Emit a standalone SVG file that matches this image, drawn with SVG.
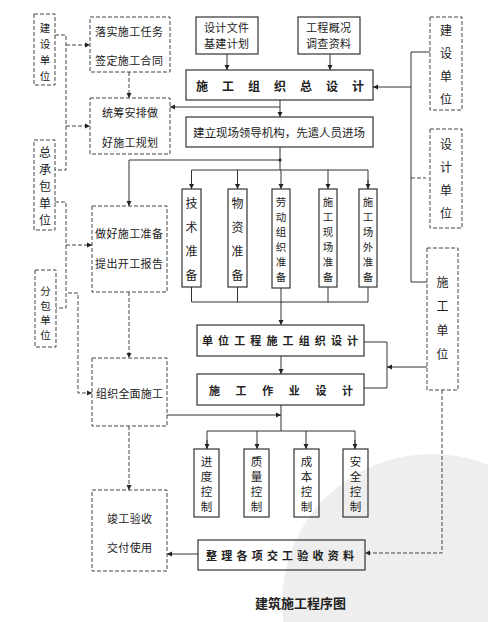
<svg xmlns="http://www.w3.org/2000/svg" width="488" height="622" viewBox="0 0 488 622">
<style>
.box{fill:none;stroke:#333;stroke-width:1.2}
.dbox{fill:none;stroke:#444;stroke-width:1;stroke-dasharray:4 2}
.ln{fill:none;stroke:#333;stroke-width:1}
.dl{fill:none;stroke:#444;stroke-width:1;stroke-dasharray:4 2}
text{font-family:"Noto Sans CJK SC","Noto Sans",sans-serif;fill:#222;dominant-baseline:central;font-size:11px}
.v{font-size:12px;text-anchor:middle}
.s{font-size:10.5px}
.m{font-size:11.5px}
.b{font-weight:bold}
</style>
<defs>
<marker id="ar" markerUnits="userSpaceOnUse" markerWidth="6" markerHeight="6" refX="5" refY="3" orient="auto">
<path d="M0,0.5 L5,3 L0,5.5 z" fill="#222"/>
</marker>
</defs>
<rect width="488" height="622" fill="#fff"/>
<ellipse cx="432" cy="602" rx="150" ry="148" fill="#eeeeee"/>

<g id="connectors">
<path class="ln" d="M227,54 V70" marker-end="url(#ar)"/>
<path class="ln" d="M330,54 V70" marker-end="url(#ar)"/>
<path class="ln" d="M430,52 H411 V282 H427"/>
<path class="dl" d="M411,178 H426"/>
<path class="ln" d="M411,87 H373" marker-end="url(#ar)"/>
<path class="ln" d="M280,100 V117" marker-end="url(#ar)"/>
<path class="ln" d="M280,107 H170" marker-end="url(#ar)"/>
<path class="ln" d="M280,147 V170"/>
<circle cx="280" cy="160" r="1.6" fill="#222"/>
<path class="ln" d="M280,160 H129 V206" marker-end="url(#ar)"/>
<path class="ln" d="M191.5,189 V170 H368 V189"/>
<path class="ln" d="M191.5,180 V189" marker-end="url(#ar)"/>
<path class="ln" d="M368,180 V189" marker-end="url(#ar)"/>
<path class="ln" d="M237.5,170 V189" marker-end="url(#ar)"/>
<path class="ln" d="M281,170 V189" marker-end="url(#ar)"/>
<path class="ln" d="M328,170 V189" marker-end="url(#ar)"/>
<path class="ln" d="M191.5,287 V302 H368 V287"/>
<path class="ln" d="M237.5,287 V302 M328,287 V302 M281,288 V302"/>
<path class="ln" d="M281,302 V325" marker-end="url(#ar)"/>
<path class="ln" d="M281,356 V374" marker-end="url(#ar)"/>
<path class="ln" d="M364,342 H387 V388 H364"/>
<path class="ln" d="M427,367 H387" marker-end="url(#ar)"/>
<path class="ln" d="M281,405 V431"/>
<path class="ln" d="M207,449 V431 H355 V449"/>
<path class="ln" d="M207,440 V449" marker-end="url(#ar)"/>
<path class="ln" d="M355,440 V449" marker-end="url(#ar)"/>
<path class="ln" d="M257,431 V449" marker-end="url(#ar)"/>
<path class="ln" d="M306,431 V449" marker-end="url(#ar)"/>
<path class="ln" d="M167,415 H281" marker-end="url(#ar)"/>
<path class="dl" d="M442,390 V553 H365" marker-end="url(#ar)"/>
<path class="ln" d="M198,554 H167" marker-end="url(#ar)"/>
<path class="dl" d="M55,35 H66 V170 H55"/>
<path class="dl" d="M66,45 H90" marker-end="url(#ar)"/>
<path class="dl" d="M66,126 H90" marker-end="url(#ar)"/>
<path class="dl" d="M55,202 H66 V308 H56"/>
<path class="dl" d="M66,245 H92" marker-end="url(#ar)"/>
<path class="dl" d="M68,293 H78 V393 H92" marker-end="url(#ar)"/>
<path class="dl" d="M129,72 V98" marker-end="url(#ar)"/>
<path class="dl" d="M129,292 V358" marker-end="url(#ar)"/>
<path class="dl" d="M129,426 V490" marker-end="url(#ar)"/>
</g>

<g id="n-jianshe-left">
<rect class="dbox" x="34" y="14" width="21" height="71"/>
<text class="v s"><tspan x="45" y="27">建</tspan><tspan x="45" y="43">设</tspan><tspan x="45" y="59">单</tspan><tspan x="45" y="75">位</tspan></text>
</g>
<g id="n-zongchengbao">
<rect class="dbox" x="34" y="140" width="21" height="90"/>
<text class="v"><tspan x="45" y="151">总</tspan><tspan x="45" y="168">承</tspan><tspan x="45" y="185">包</tspan><tspan x="45" y="202">单</tspan><tspan x="45" y="219">位</tspan></text>
</g>
<g id="n-fenbao">
<rect class="dbox" x="35" y="270" width="21" height="77"/>
<text class="v s"><tspan x="45.5" y="290">分</tspan><tspan x="45.5" y="304.5">包</tspan><tspan x="45.5" y="319">单</tspan><tspan x="45.5" y="333.5">位</tspan></text>
</g>

<g id="n-luoshi">
<rect class="dbox" x="90" y="17" width="80" height="55"/>
<text x="95" y="31" textLength="68" lengthAdjust="spacing">落实施工任务</text>
<text x="95" y="60" textLength="68" lengthAdjust="spacing">签定施工合同</text>
</g>
<g id="n-tongchou">
<rect class="dbox" x="90" y="98" width="80" height="56"/>
<text x="102" y="112" textLength="56" lengthAdjust="spacing">统筹安排做</text>
<text x="102" y="142" textLength="56" lengthAdjust="spacing">好施工规划</text>
</g>
<g id="n-zhunbei">
<rect class="dbox" x="92" y="206" width="75" height="86"/>
<text x="95" y="233" textLength="68" lengthAdjust="spacing">做好施工准备</text>
<text x="95" y="263" textLength="68" lengthAdjust="spacing">提出开工报告</text>
</g>
<g id="n-zuzhi">
<rect class="dbox" x="92" y="358" width="75" height="68"/>
<text x="96" y="393" textLength="67" lengthAdjust="spacing">组织全面施工</text>
</g>
<g id="n-jungong">
<rect class="dbox" x="92" y="490" width="75" height="81"/>
<text x="107" y="518" textLength="45" lengthAdjust="spacing">竣工验收</text>
<text x="107" y="547" textLength="45" lengthAdjust="spacing">交付使用</text>
</g>

<g id="n-sheji-wenjian">
<rect class="box" x="196" y="17" width="62" height="37"/>
<text x="204" y="27" textLength="45" lengthAdjust="spacing">设计文件</text>
<text x="204" y="43" textLength="45" lengthAdjust="spacing">基建计划</text>
</g>
<g id="n-gongcheng-gaikuang">
<rect class="box" x="298" y="17" width="62" height="37"/>
<text x="306" y="27" textLength="45" lengthAdjust="spacing">工程概况</text>
<text x="306" y="43" textLength="45" lengthAdjust="spacing">调查资料</text>
</g>
<g id="n-zongsheji">
<rect class="box" x="186" y="70" width="187" height="30"/>
<text class="b" x="196" y="85" textLength="168" lengthAdjust="spacing" style="font-size:12px">施工组织总设计</text>
</g>
<g id="n-jianli">
<rect class="box" x="186" y="117" width="187" height="30"/>
<text x="193" y="132" textLength="172" lengthAdjust="spacing" style="font-size:11.5px">建立现场领导机构，先遣人员进场</text>
</g>

<g id="n-jishu">
<rect class="box" x="182" y="189" width="19" height="98"/>
<text class="v"><tspan x="191.5" y="202">技</tspan><tspan x="191.5" y="226">术</tspan><tspan x="191.5" y="250">准</tspan><tspan x="191.5" y="274">备</tspan></text>
</g>
<g id="n-wuzi">
<rect class="box" x="228" y="189" width="19" height="98"/>
<text class="v"><tspan x="237.5" y="202">物</tspan><tspan x="237.5" y="226">资</tspan><tspan x="237.5" y="250">准</tspan><tspan x="237.5" y="274">备</tspan></text>
</g>
<g id="n-laodong">
<rect class="box" x="272" y="189" width="18" height="99"/>
<text class="v s"><tspan x="281" y="201">劳</tspan><tspan x="281" y="216">动</tspan><tspan x="281" y="231">组</tspan><tspan x="281" y="246">织</tspan><tspan x="281" y="261">准</tspan><tspan x="281" y="276">备</tspan></text>
</g>
<g id="n-xianchang">
<rect class="box" x="319" y="189" width="18" height="98"/>
<text class="v s"><tspan x="328" y="201">施</tspan><tspan x="328" y="216">工</tspan><tspan x="328" y="231">现</tspan><tspan x="328" y="246">场</tspan><tspan x="328" y="261">准</tspan><tspan x="328" y="276">备</tspan></text>
</g>
<g id="n-changwai">
<rect class="box" x="359" y="189" width="18" height="98"/>
<text class="v s"><tspan x="368" y="201">施</tspan><tspan x="368" y="216">工</tspan><tspan x="368" y="231">场</tspan><tspan x="368" y="246">外</tspan><tspan x="368" y="261">准</tspan><tspan x="368" y="276">备</tspan></text>
</g>

<g id="n-danwei-sheji">
<rect class="box" x="197" y="325" width="167" height="31"/>
<text class="b" x="202" y="340" textLength="156" lengthAdjust="spacing">单位工程施工组织设计</text>
</g>
<g id="n-zuoye-sheji">
<rect class="box" x="197" y="374" width="167" height="31"/>
<text class="b" x="209" y="390" textLength="144" lengthAdjust="spacing">施工作业设计</text>
</g>

<g id="n-jindu">
<rect class="box" x="194" y="449" width="25" height="68"/>
<text class="v m"><tspan x="206.5" y="461">进</tspan><tspan x="206.5" y="476">度</tspan><tspan x="206.5" y="491">控</tspan><tspan x="206.5" y="506">制</tspan></text>
</g>
<g id="n-zhiliang">
<rect class="box" x="244" y="449" width="25" height="68"/>
<text class="v m"><tspan x="256.5" y="461">质</tspan><tspan x="256.5" y="476">量</tspan><tspan x="256.5" y="491">控</tspan><tspan x="256.5" y="506">制</tspan></text>
</g>
<g id="n-chengben">
<rect class="box" x="294" y="449" width="25" height="68"/>
<text class="v m"><tspan x="306.5" y="461">成</tspan><tspan x="306.5" y="476">本</tspan><tspan x="306.5" y="491">控</tspan><tspan x="306.5" y="506">制</tspan></text>
</g>
<g id="n-anquan">
<rect class="box" x="343" y="449" width="25" height="68"/>
<text class="v m"><tspan x="355.5" y="461">安</tspan><tspan x="355.5" y="476">全</tspan><tspan x="355.5" y="491">控</tspan><tspan x="355.5" y="506">制</tspan></text>
</g>

<g id="n-zhengli">
<rect class="box" x="198" y="540" width="167" height="30"/>
<text class="b" x="206" y="555" textLength="148" lengthAdjust="spacing">整理各项交工验收资料</text>
</g>

<g id="n-jianshe-right">
<rect class="dbox" x="430" y="17" width="32" height="93"/>
<text class="v"><tspan x="446" y="29">建</tspan><tspan x="446" y="52">设</tspan><tspan x="446" y="75">单</tspan><tspan x="446" y="98">位</tspan></text>
</g>
<g id="n-sheji-danwei">
<rect class="dbox" x="430" y="129" width="32" height="99"/>
<text class="v"><tspan x="446" y="143">设</tspan><tspan x="446" y="166">计</tspan><tspan x="446" y="189">单</tspan><tspan x="446" y="212">位</tspan></text>
</g>
<g id="n-shigong-danwei">
<rect class="dbox" x="427" y="248" width="31" height="142"/>
<text class="v"><tspan x="442.5" y="281">施</tspan><tspan x="442.5" y="305">工</tspan><tspan x="442.5" y="329">单</tspan><tspan x="442.5" y="353">位</tspan></text>
</g>

<text class="b" x="255" y="602" textLength="91" lengthAdjust="spacing" style="font-size:13px">建筑施工程序图</text>
</svg>
